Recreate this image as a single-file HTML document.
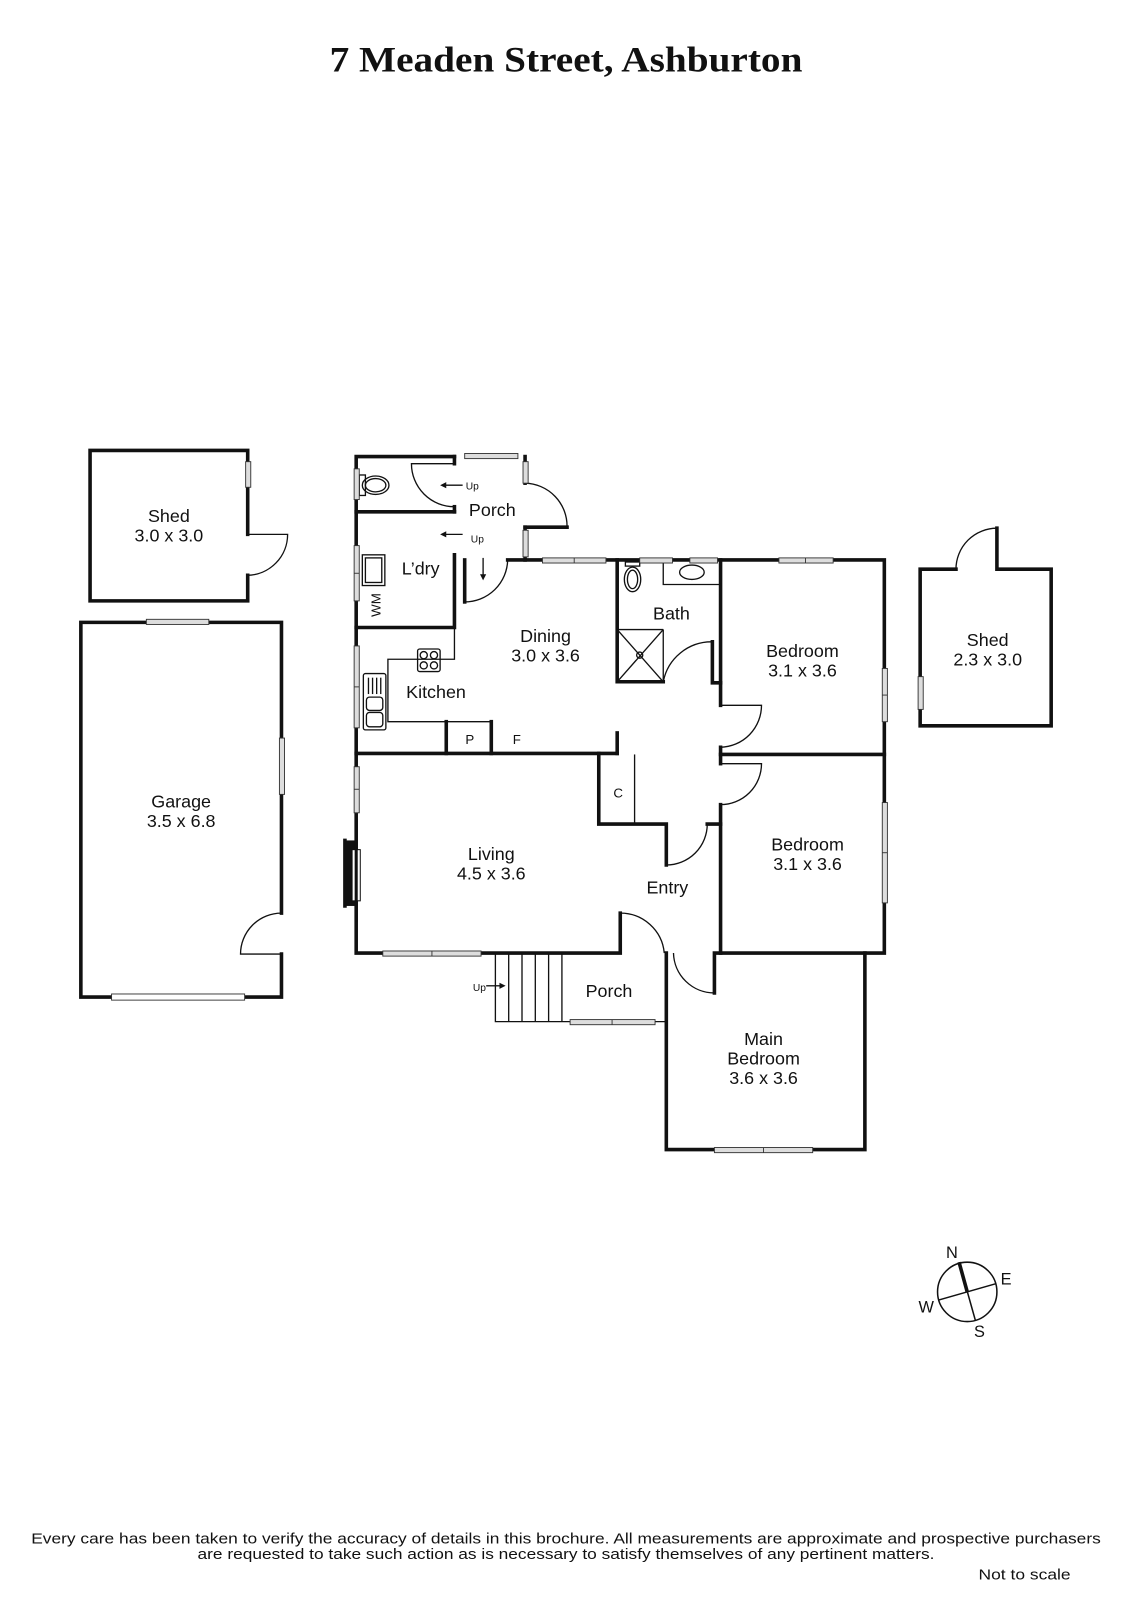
<!DOCTYPE html>
<html><head><meta charset="utf-8"><style>
html,body{margin:0;padding:0;background:#fff;}
svg{display:block;}
text{font-family:"Liberation Sans",sans-serif;fill:#111;}
</style></head><body>
<svg width="1131" height="1600" viewBox="0 0 1105 1563" preserveAspectRatio="none" xmlns="http://www.w3.org/2000/svg">
<rect width="1105" height="1563" fill="#fff"/>
<text x="553" y="70" text-anchor="middle" style="font-family:'Liberation Serif',serif;font-weight:bold;font-size:35px" textLength="462" lengthAdjust="spacingAndGlyphs">7 Meaden Street, Ashburton</text>

<g stroke="#111" stroke-width="3.5" fill="none" stroke-linecap="square">
<polyline points="242,522 242,440 88,440 88,587 242,587 242,562"/>
<polyline points="275,892 275,608 79,608 79,974 275,974 275,932"/>
<polyline points="934,556 899,556 899,709 1027,709 1027,556 974,556 974,516"/>
<polyline points="444,446 348,446 348,931 606,931 606,892"/>
<polyline points="444,446 444,453"/>
<polyline points="444,495 444,500"/>
<polyline points="513,446 513,472"/>
<polyline points="513,515 554,515"/>
<polyline points="513,515 513,547 864,547 864,931 698,931 698,970"/>
<polyline points="496,547 513,547"/>
<polyline points="454,547 454,588"/>
<polyline points="651,931 651,1123 845,1123 845,931"/>
<line x1="348" y1="500" x2="444" y2="500"/>
<polyline points="444,542 444,613 348,613"/>
<line x1="348" y1="736" x2="603" y2="736"/>
<polyline points="585,736 585,805 651,805 651,845"/>
<line x1="691" y1="805" x2="704" y2="805"/>
<polyline points="704,786 704,931"/>
<polyline points="704,746 704,730"/>
<polyline points="704,689 704,547"/>
<line x1="704" y1="737" x2="864" y2="737"/>
<polyline points="603,547 603,666 648,666"/>
<polyline points="696,627 696,667 704,667"/>
<line x1="603" y1="716" x2="603" y2="736"/>
<line x1="436" y1="705" x2="436" y2="736"/>
<line x1="480" y1="705" x2="480" y2="736"/>
<line x1="337" y1="821" x2="337" y2="885"/>
</g>
<rect x="336" y="821" width="12" height="64" fill="#111"/>
<rect x="344" y="830" width="8" height="50" fill="#fff" stroke="#111" stroke-width="1"/>
<line x1="348" y1="800" x2="348" y2="900" stroke="#111" stroke-width="3"/>

<g stroke="#111" stroke-width="1.3" fill="none">
<line x1="620" y1="737" x2="620" y2="805"/>
<polyline points="444,613 444,644 379,644 379,705 436,705"/>
<line x1="436" y1="705" x2="480" y2="705"/>
<line x1="603" y1="615" x2="648" y2="615"/>
<line x1="648" y1="615" x2="648" y2="666"/>
<line x1="603" y1="666" x2="648" y2="615"/>
<line x1="603" y1="615" x2="648" y2="666"/>
<circle cx="625" cy="640" r="3"/>
<polyline points="648,547 648,571 704,571"/>
<ellipse cx="676" cy="559" rx="12" ry="7"/>
<rect x="611" y="549" width="14" height="4"/>
<ellipse cx="618" cy="566" rx="8" ry="12"/>
<ellipse cx="618" cy="566" rx="5" ry="9"/>
<rect x="351" y="464" width="6" height="20"/>
<ellipse cx="367" cy="474" rx="13" ry="9"/>
<ellipse cx="367" cy="474" rx="10" ry="6.5"/>
<rect x="354" y="542" width="22" height="30"/>
<rect x="357" y="545" width="16" height="24"/>
<rect x="408" y="634" width="22" height="22" rx="2"/>
<circle cx="414" cy="640" r="3.5"/><circle cx="424" cy="640" r="3.5"/>
<circle cx="414" cy="650" r="3.5"/><circle cx="424" cy="650" r="3.5"/>
<rect x="355" y="658" width="22" height="55" rx="2"/>
<line x1="360" y1="662" x2="360" y2="678"/><line x1="364" y1="662" x2="364" y2="678"/>
<line x1="368" y1="662" x2="368" y2="678"/><line x1="372" y1="662" x2="372" y2="678"/>
<rect x="358" y="681" width="16" height="13" rx="3"/>
<rect x="358" y="696" width="16" height="14" rx="3"/>
<path d="M242,522 L281,522 A40,40 0 0 1 242,562"/>
<path d="M275,932 L235,932 A40,40 0 0 1 275,892"/>
<path d="M974,556 L974,516 A40,40 0 0 0 934,556"/>
<path d="M444,495 A42,42 0 0 1 402,453 L444,453"/>
<path d="M513,472 A42,42 0 0 1 554,515"/>
<path d="M454,588 A42,42 0 0 0 496,547"/>
<path d="M648,666 A48,48 0 0 1 696,627"/>
<path d="M704,689 L744,689 A41,41 0 0 1 704,730"/>
<path d="M704,746 L744,746 A40,40 0 0 1 704,786"/>
<path d="M651,845 A40,40 0 0 0 691,805"/>
<path d="M606,892 A43,43 0 0 1 649,931"/>
<path d="M698,970 A40,40 0 0 1 658,931"/>
<polyline points="484,932 484,998 651,998"/>
<line x1="497" y1="932" x2="497" y2="998"/>
<line x1="510" y1="932" x2="510" y2="998"/>
<line x1="523" y1="932" x2="523" y2="998"/>
<line x1="549" y1="932" x2="549" y2="998"/>
<line x1="536" y1="932" x2="536" y2="998"/>
<line x1="475" y1="963" x2="490" y2="963"/>
<line x1="433" y1="474" x2="452" y2="474"/>
<line x1="433" y1="522" x2="452" y2="522"/>
<line x1="472" y1="545" x2="472" y2="563"/>
</g>
<g fill="#111">
<polygon points="494,963 488,960 488,966"/>
<polygon points="430,474 436,471 436,477"/>
<polygon points="430,522 436,519 436,525"/>
<polygon points="472,567 469,561 475,561"/>
</g>

<g fill="#ddd" stroke="#333" stroke-width="0.9">
<rect x="240" y="451" width="5" height="25"/>
<rect x="143" y="605" width="61" height="5"/>
<rect x="273" y="721" width="5" height="55"/>
<rect x="109" y="971" width="130" height="6" fill="#fff"/>
<rect x="897" y="661" width="5" height="32"/>
<rect x="346" y="458" width="5" height="30"/>
<rect x="346" y="533" width="5" height="54"/>
<rect x="346" y="631" width="5" height="80"/>
<rect x="346" y="749" width="5" height="45"/>
<rect x="454" y="443" width="52" height="5"/>
<rect x="511" y="451" width="5" height="21"/>
<rect x="511" y="518" width="5" height="26"/>
<rect x="530" y="545" width="62" height="5"/>
<rect x="625" y="545" width="32" height="5"/>
<rect x="674" y="545" width="27" height="5"/>
<rect x="761" y="545" width="53" height="5"/>
<rect x="862" y="653" width="5" height="52"/>
<rect x="862" y="784" width="5" height="98"/>
<rect x="374" y="929" width="96" height="5"/>
<rect x="557" y="996" width="83" height="5"/>
<rect x="698" y="1121" width="96" height="5"/>
</g>
<g stroke="#333" stroke-width="0.9">
<line x1="561" y1="545" x2="561" y2="550"/><line x1="787" y1="545" x2="787" y2="550"/>
<line x1="862" y1="679" x2="867" y2="679"/><line x1="862" y1="833" x2="867" y2="833"/>
<line x1="422" y1="929" x2="422" y2="934"/><line x1="598" y1="996" x2="598" y2="1001"/>
<line x1="746" y1="1121" x2="746" y2="1126"/><line x1="346" y1="560" x2="351" y2="560"/>
<line x1="346" y1="671" x2="351" y2="671"/><line x1="346" y1="771" x2="351" y2="771"/>
</g>

<g font-size="17.5" text-anchor="middle">
<text x="165" y="510">Shed</text><text x="165" y="529">3.0 x 3.0</text>
<text x="177" y="789">Garage</text><text x="177" y="808">3.5 x 6.8</text>
<text x="965" y="631">Shed</text><text x="965" y="650">2.3 x 3.0</text>
<text x="481" y="504">Porch</text>
<text x="411" y="561">L’dry</text>
<text x="533" y="627">Dining</text><text x="533" y="646">3.0 x 3.6</text>
<text x="656" y="605">Bath</text>
<text x="426" y="682">Kitchen</text>
<text x="784" y="642">Bedroom</text><text x="784" y="661">3.1 x 3.6</text>
<text x="789" y="831">Bedroom</text><text x="789" y="850">3.1 x 3.6</text>
<text x="480" y="840">Living</text><text x="480" y="859">4.5 x 3.6</text>
<text x="652" y="873">Entry</text>
<text x="595" y="974">Porch</text>
<text x="746" y="1021">Main</text><text x="746" y="1040">Bedroom</text><text x="746" y="1059">3.6 x 3.6</text>
</g>
<g font-size="13" text-anchor="middle">
<text x="459" y="727">P</text><text x="505" y="727">F</text>
<text x="604" y="779">C</text>
<text x="368" y="591" transform="rotate(-90 368 591)" dy="4">WM</text>
</g>
<g font-size="10">
<text x="455" y="478">Up</text><text x="460" y="530">Up</text><text x="462" y="968">Up</text>
</g>

<g stroke="#111" fill="none">
<circle cx="945" cy="1262" r="29" stroke-width="1.5"/>
<line x1="937" y1="1233" x2="953" y2="1290" stroke-width="1.5"/>
<line x1="937" y1="1233" x2="945" y2="1262" stroke-width="3.5"/>
<line x1="917" y1="1270" x2="973" y2="1254" stroke-width="1.5"/>
</g>
<g font-size="16" text-anchor="middle">
<text x="930" y="1229">N</text><text x="983" y="1255">E</text><text x="905" y="1282">W</text><text x="957" y="1306">S</text>
</g>

<g font-size="14" text-anchor="middle">
<text x="553" y="1508" textLength="1045" lengthAdjust="spacingAndGlyphs">Every care has been taken to verify the accuracy of details in this brochure.  All measurements are approximate and prospective purchasers</text>
<text x="553" y="1523" textLength="720" lengthAdjust="spacingAndGlyphs">are requested to take such action as is necessary to satisfy themselves of any pertinent matters.</text>
<text x="1001" y="1543" textLength="90" lengthAdjust="spacingAndGlyphs">Not to scale</text>
</g>
</svg>
</body></html>
